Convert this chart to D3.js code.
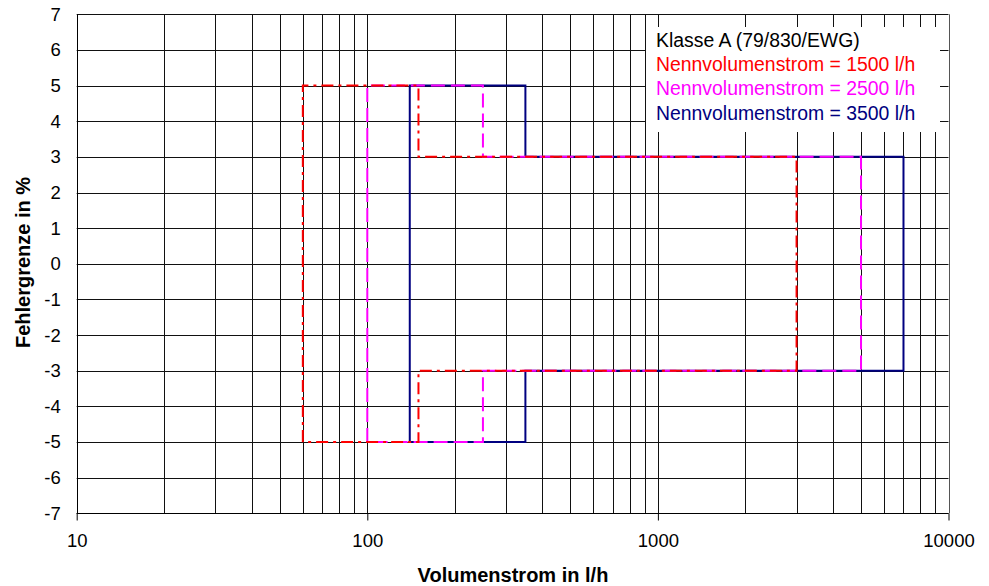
<!DOCTYPE html>
<html>
<head>
<meta charset="utf-8">
<script src="https://cdn.jsdelivr.net/npm/d3@7"></script>
<style>
  html, body { margin: 0; padding: 0; background: #fff; }
  svg { display: block; font-family: "Liberation Sans", Arial, sans-serif; }
</style>
</head>
<body>
<svg id="chart" width="989" height="586"></svg>
<script>
// ---- data ----
const xTickLabels = [10, 100, 1000, 10000];
const yTickLabels = [-7, -6, -5, -4, -3, -2, -1, 0, 1, 2, 3, 4, 5, 6, 7];
const legendTitle = "Klasse A (79/830/EWG)";
const seriesNames = ["Nennvolumenstrom = 1500 l/h", "Nennvolumenstrom = 2500 l/h", "Nennvolumenstrom = 3500 l/h"];
// error-limit outlines (x = flow in l/h, y = error limit in %)
const s1500x = [60, 60, 150, 150, 3000, 3000, 150, 150, 60];
const s1500y = [-5, 5, 5, 3, 3, -3, -3, -5, -5];
const s2500x = [100, 100, 250, 250, 5000, 5000, 250, 250, 100];
const s2500y = [-5, 5, 5, 3, 3, -3, -3, -5, -5];
const s3500x = [140, 140, 350, 350, 7000, 7000, 350, 350, 140];
const s3500y = [-5, 5, 5, 3, 3, -3, -3, -5, -5];

const svg = d3.select("#chart");
const L = 76.7, R = 948.5, T = 14.3, B = 513.3;
const x = d3.scaleLog().domain([10, 10000]).range([L, R]);
const y = d3.scaleLinear().domain([-7, 7]).range([B, T]);
const FONT = "'Liberation Sans', Arial, sans-serif";

// gridlines
const grid = svg.append("g");
const vTicks = [];
[10, 100, 1000].forEach(d => { for (let k = 1; k <= 9; k++) vTicks.push(d * k); });
grid.selectAll("line.v").data(vTicks.filter(v => v > 10 && v < 10000)).enter().append("line")
  .attr("x1", d => Math.round(x(d)) + 0.5).attr("x2", d => Math.round(x(d)) + 0.5)
  .attr("y1", T).attr("y2", B).attr("stroke", "#111").attr("stroke-width", 1);
grid.selectAll("line.h").data(yTickLabels).enter().append("line")
  .attr("x1", L).attr("x2", R)
  .attr("y1", d => Math.round(y(d)) + 0.5).attr("y2", d => Math.round(y(d)) + 0.5)
  .attr("stroke", "#111").attr("stroke-width", 1);

// frame
svg.append("line").attr("x1", Math.round(L) + 0.5).attr("x2", Math.round(L) + 0.5).attr("y1", T).attr("y2", B).attr("stroke", "#000");
svg.append("line").attr("x1", Math.round(R) + 0.5).attr("x2", Math.round(R) + 0.5).attr("y1", T).attr("y2", B).attr("stroke", "#555");

// x axis
const xAxis = d3.axisBottom(x).tickValues(xTickLabels).tickSize(7).tickPadding(13).tickFormat(d3.format("d"));
const gx = svg.append("g").attr("transform", `translate(0,${Math.round(B) + 0.5})`).call(xAxis);
gx.select(".domain").remove();
gx.selectAll(".tick line").attr("stroke", "#000");
gx.selectAll(".tick text").attr("font-size", 18.5).attr("fill", "#000").attr("font-family", FONT);
gx.append("line").attr("x1", L).attr("x2", R).attr("stroke", "#000");

// y axis labels
const yAxis = d3.axisLeft(y).tickValues(yTickLabels).tickSize(0).tickPadding(16).tickFormat(d3.format("d"));
const gy = svg.append("g").attr("transform", `translate(${L},0)`).call(yAxis);
gy.select(".domain").remove();
gy.selectAll(".tick text").attr("font-size", 18.5).attr("fill", "#000").attr("font-family", FONT)
  .text(d => d < 0 ? "-" + Math.abs(d) : d);

// series
const line = d3.line().x(d => x(d[0])).y(d => y(d[1]));
const series = [
  { xs: s3500x, ys: s3500y, color: "#000080", dash: null },
  { xs: s2500x, ys: s2500y, color: "#FF00FF", dash: "14,6" },
  { xs: s1500x, ys: s1500y, color: "#FF0000", dash: "12,5,3,5" }
];
series.forEach(s => {
  svg.append("path").datum(s.xs.map((v, i) => [v, s.ys[i]]))
    .attr("d", line).attr("fill", "none").attr("stroke", s.color)
    .attr("stroke-width", 2).attr("stroke-dasharray", s.dash);
});

// legend
const lg = svg.append("g");
lg.append("rect").attr("x", 646).attr("y", 27).attr("width", 294).attr("height", 105).attr("fill", "#fff");
const legendColors = ["#000000", "#FF0000", "#FF00FF", "#000080"];
[legendTitle].concat(seriesNames).forEach((t, i) => {
  lg.append("text").attr("x", 656).attr("y", 47 + i * 24.2).attr("font-size", 19.4)
    .attr("fill", legendColors[i]).text(t);
});

// axis titles
svg.append("text").attr("x", 513).attr("y", 582).attr("text-anchor", "middle")
  .attr("font-size", 20).attr("font-weight", "bold").text("Volumenstrom in l/h");
svg.append("text").attr("transform", `translate(30,262.5) rotate(-90)`).attr("text-anchor", "middle")
  .attr("font-size", 20).attr("font-weight", "bold").text("Fehlergrenze in %");
</script>
</body>
</html>
